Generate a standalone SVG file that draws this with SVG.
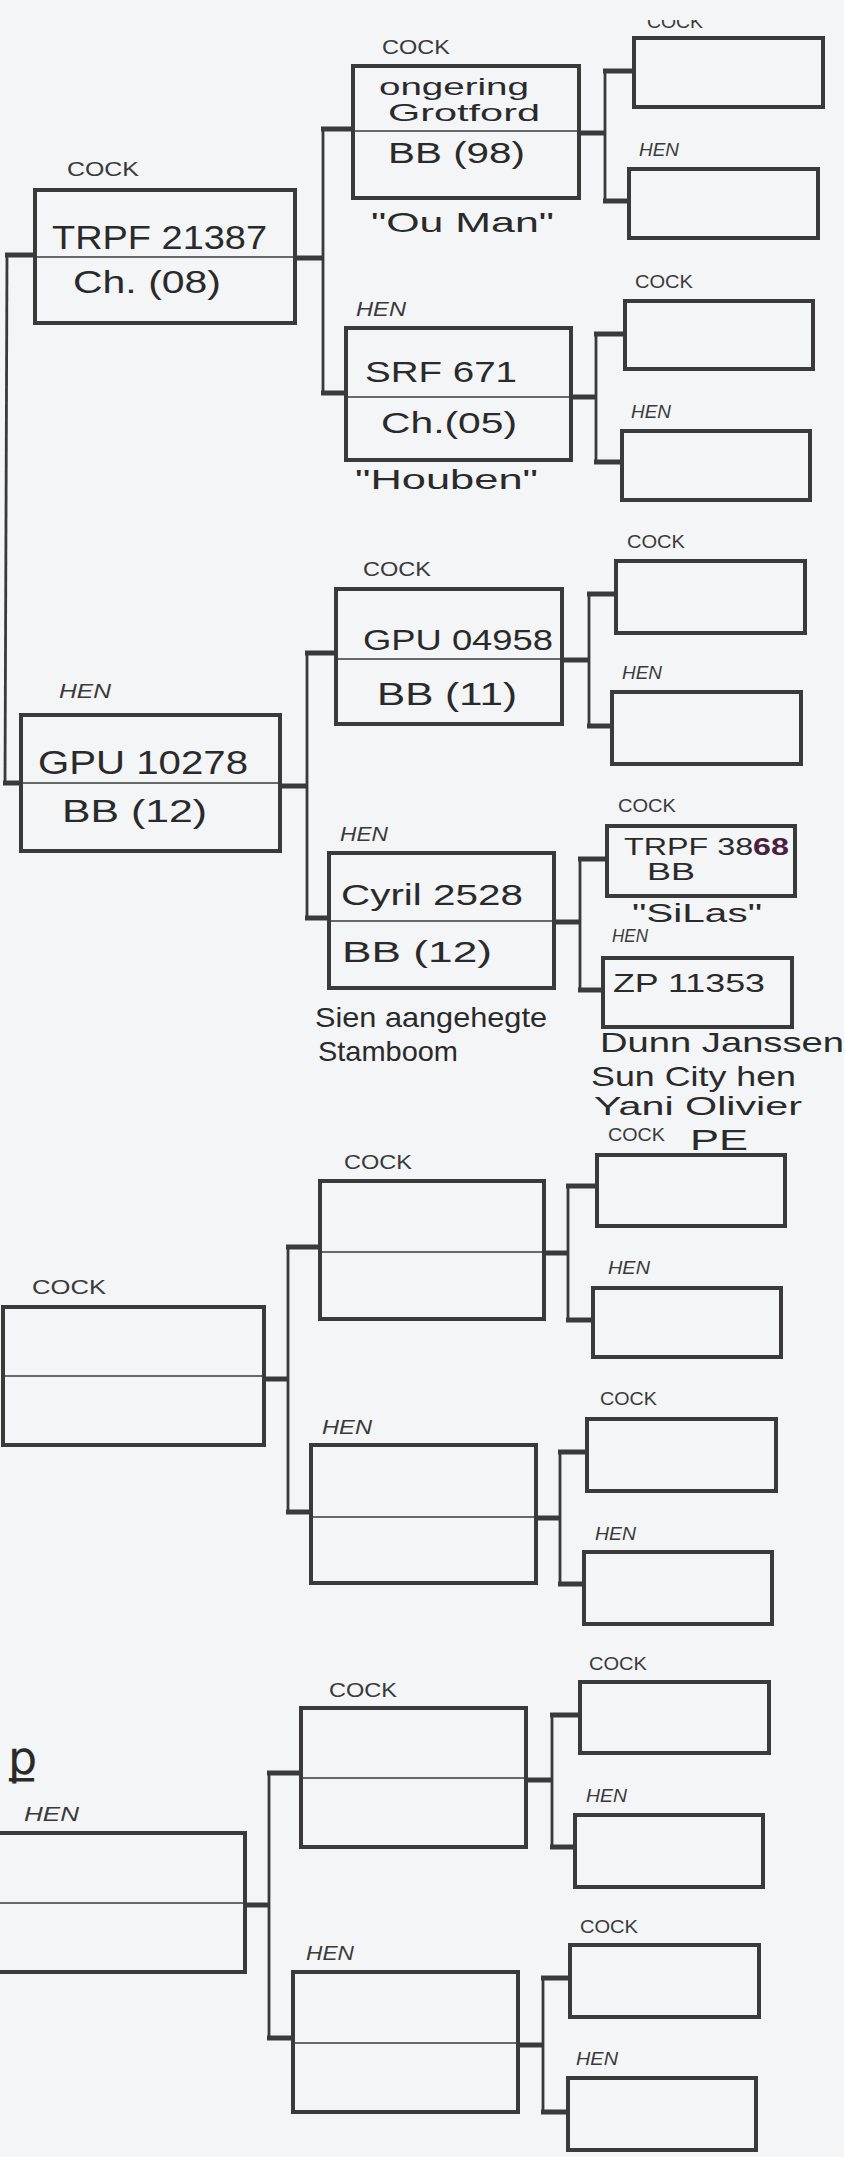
<svg xmlns="http://www.w3.org/2000/svg" width="844" height="2157" viewBox="0 0 844 2157">
<style>
.bg{fill:#f3f5f7}
.box{fill:none;stroke:#3a3a3a;stroke-width:4}
.mid{stroke:#3a3a3a;stroke-width:1.6}
.con{stroke:#3a3a3a;stroke-width:2.8;fill:none}
.stub{stroke:#3a3a3a;stroke-width:5}
.lbl{font-family:"Liberation Sans",Arial,sans-serif;font-size:21px;fill:#3a3a3a}
.lbs{font-family:"Liberation Sans",Arial,sans-serif;font-size:17.5px;fill:#3a3a3a}
.it{font-style:italic}
.hw{font-family:"Liberation Sans",Arial,sans-serif;fill:#2a2a2a}
</style>
<defs>
<clipPath id="cut"><rect x="600" y="20" width="200" height="20"/></clipPath>
</defs>
<rect class="bg" x="0" y="0" width="844" height="2157"/>

<g id="connectors">
<path class="con" d="M7 255 L5 783"/>
<line class="stub" x1="5" y1="255" x2="35" y2="255"/>
<line class="stub" x1="3" y1="783" x2="21" y2="783"/>
<line class="stub" x1="295" y1="258" x2="323" y2="258"/>
<line class="con" x1="323" y1="129" x2="323" y2="393"/>
<line class="stub" x1="321" y1="129" x2="353" y2="129"/>
<line class="stub" x1="321" y1="393" x2="346" y2="393"/>
<line class="stub" x1="579" y1="133" x2="605" y2="133"/>
<line class="con" x1="605" y1="71" x2="605" y2="201"/>
<line class="stub" x1="603" y1="71" x2="634" y2="71"/>
<line class="stub" x1="603" y1="201" x2="629" y2="201"/>
<line class="stub" x1="571" y1="397" x2="596" y2="397"/>
<line class="con" x1="596" y1="334" x2="596" y2="462"/>
<line class="stub" x1="594" y1="334" x2="625" y2="334"/>
<line class="stub" x1="594" y1="462" x2="622" y2="462"/>
<line class="stub" x1="280" y1="786" x2="307" y2="786"/>
<line class="con" x1="307" y1="653" x2="307" y2="918"/>
<line class="stub" x1="305" y1="653" x2="336" y2="653"/>
<line class="stub" x1="305" y1="918" x2="329" y2="918"/>
<line class="stub" x1="562" y1="660" x2="589" y2="660"/>
<line class="con" x1="589" y1="594" x2="589" y2="726"/>
<line class="stub" x1="587" y1="594" x2="616" y2="594"/>
<line class="stub" x1="587" y1="726" x2="612" y2="726"/>
<line class="stub" x1="554" y1="922" x2="580" y2="922"/>
<line class="con" x1="580" y1="859" x2="580" y2="990"/>
<line class="stub" x1="578" y1="859" x2="607" y2="859"/>
<line class="stub" x1="578" y1="990" x2="603" y2="990"/>
<line class="stub" x1="264" y1="1379" x2="288" y2="1379"/>
<line class="con" x1="288" y1="1247" x2="288" y2="1512"/>
<line class="stub" x1="286" y1="1247" x2="320" y2="1247"/>
<line class="stub" x1="286" y1="1512" x2="311" y2="1512"/>
<line class="stub" x1="544" y1="1253" x2="568" y2="1253"/>
<line class="con" x1="568" y1="1186" x2="568" y2="1320"/>
<line class="stub" x1="566" y1="1186" x2="597" y2="1186"/>
<line class="stub" x1="566" y1="1320" x2="593" y2="1320"/>
<line class="stub" x1="536" y1="1518" x2="560" y2="1518"/>
<line class="con" x1="560" y1="1452" x2="560" y2="1584"/>
<line class="stub" x1="558" y1="1452" x2="587" y2="1452"/>
<line class="stub" x1="558" y1="1584" x2="584" y2="1584"/>
<line class="stub" x1="245" y1="1905" x2="269" y2="1905"/>
<line class="con" x1="269" y1="1773" x2="269" y2="2038"/>
<line class="stub" x1="267" y1="1773" x2="301" y2="1773"/>
<line class="stub" x1="267" y1="2038" x2="293" y2="2038"/>
<line class="stub" x1="526" y1="1780" x2="552" y2="1780"/>
<line class="con" x1="552" y1="1715" x2="552" y2="1847"/>
<line class="stub" x1="550" y1="1715" x2="580" y2="1715"/>
<line class="stub" x1="550" y1="1847" x2="575" y2="1847"/>
<line class="stub" x1="518" y1="2045" x2="543" y2="2045"/>
<line class="con" x1="543" y1="1978" x2="543" y2="2112"/>
<line class="stub" x1="541" y1="1978" x2="570" y2="1978"/>
<line class="stub" x1="541" y1="2112" x2="568" y2="2112"/>
</g>

<g id="trpf21387">
<text class="lbl" x="67" y="176" textLength="72" lengthAdjust="spacingAndGlyphs">COCK</text>
<rect class="box" x="35" y="190" width="260" height="133"/>
<line class="mid" x1="35" y1="257" x2="295" y2="257"/>
<text class="hw" x="52" y="249" font-size="34" textLength="215" lengthAdjust="spacingAndGlyphs">TRPF 21387</text>
<text class="hw" x="73" y="293" font-size="32" textLength="148" lengthAdjust="spacingAndGlyphs">Ch. (08)</text>
</g>
<g id="ongering">
<text class="lbl" x="382" y="54" textLength="68" lengthAdjust="spacingAndGlyphs">COCK</text>
<rect class="box" x="353" y="66" width="226" height="132"/>
<line class="mid" x1="353" y1="131" x2="579" y2="131"/>
<text class="hw" x="379" y="95" font-size="24" textLength="150" lengthAdjust="spacingAndGlyphs">ongering</text>
<text class="hw" x="388" y="121" font-size="24" textLength="152" lengthAdjust="spacingAndGlyphs">Grotford</text>
<text class="hw" x="388" y="163" font-size="30" textLength="137" lengthAdjust="spacingAndGlyphs">BB (98)</text>
<text class="hw" x="371" y="232" font-size="28" textLength="183" lengthAdjust="spacingAndGlyphs">"Ou Man"</text>
</g>
<g id="srf671">
<text class="lbl it" x="356" y="316" textLength="50" lengthAdjust="spacingAndGlyphs">HEN</text>
<rect class="box" x="346" y="328" width="225" height="132"/>
<line class="mid" x1="346" y1="397" x2="571" y2="397"/>
<text class="hw" x="365" y="382" font-size="30" textLength="152" lengthAdjust="spacingAndGlyphs">SRF 671</text>
<text class="hw" x="381" y="433" font-size="30" textLength="136" lengthAdjust="spacingAndGlyphs">Ch.(05)</text>
<text class="hw" x="355" y="489" font-size="28" textLength="183" lengthAdjust="spacingAndGlyphs">"Houben"</text>
</g>
<g id="r1">
<text class="lbs" x="647" y="28" textLength="56" lengthAdjust="spacingAndGlyphs" clip-path="url(#cut)">COCK</text>
<rect class="box" x="634" y="38" width="189" height="69"/>
</g>
<g id="r2">
<text class="lbs it" x="639" y="156" textLength="40" lengthAdjust="spacingAndGlyphs">HEN</text>
<rect class="box" x="629" y="169" width="189" height="69"/>
</g>
<g id="r3">
<text class="lbs" x="635" y="288" textLength="58" lengthAdjust="spacingAndGlyphs">COCK</text>
<rect class="box" x="625" y="301" width="188" height="68"/>
</g>
<g id="r4">
<text class="lbs it" x="631" y="418" textLength="40" lengthAdjust="spacingAndGlyphs">HEN</text>
<rect class="box" x="622" y="431" width="188" height="69"/>
</g>

<g id="gpu10278">
<text class="lbl it" x="59" y="698" textLength="52" lengthAdjust="spacingAndGlyphs">HEN</text>
<rect class="box" x="21" y="715" width="259" height="136"/>
<line class="mid" x1="21" y1="783" x2="280" y2="783"/>
<text class="hw" x="38" y="774" font-size="34" textLength="210" lengthAdjust="spacingAndGlyphs">GPU 10278</text>
<text class="hw" x="62" y="822" font-size="32" textLength="145" lengthAdjust="spacingAndGlyphs">BB (12)</text>
</g>
<g id="gpu04958">
<text class="lbl" x="363" y="576" textLength="68" lengthAdjust="spacingAndGlyphs">COCK</text>
<rect class="box" x="336" y="589" width="226" height="135"/>
<line class="mid" x1="336" y1="659" x2="562" y2="659"/>
<text class="hw" x="363" y="650" font-size="30" textLength="190" lengthAdjust="spacingAndGlyphs">GPU 04958</text>
<text class="hw" x="377" y="705" font-size="32" textLength="140" lengthAdjust="spacingAndGlyphs">BB (11)</text>
</g>
<g id="cyril2528">
<text class="lbl it" x="340" y="841" textLength="48" lengthAdjust="spacingAndGlyphs">HEN</text>
<rect class="box" x="329" y="853" width="225" height="135" fill="#f6f2ad"/>
<line class="mid" x1="329" y1="921" x2="554" y2="921"/>
<text class="hw" x="341" y="905" font-size="30" textLength="182" lengthAdjust="spacingAndGlyphs">Cyril 2528</text>
<text class="hw" x="342" y="962" font-size="30" textLength="150" lengthAdjust="spacingAndGlyphs">BB (12)</text>
<text class="hw" x="315" y="1027" font-size="28" textLength="232" lengthAdjust="spacingAndGlyphs">Sien aangehegte</text>
<text class="hw" x="318" y="1061" font-size="28" textLength="140" lengthAdjust="spacingAndGlyphs">Stamboom</text>
</g>
<g id="r5">
<text class="lbs" x="627" y="548" textLength="58" lengthAdjust="spacingAndGlyphs">COCK</text>
<rect class="box" x="616" y="561" width="189" height="72"/>
</g>
<g id="r6">
<text class="lbs it" x="622" y="679" textLength="40" lengthAdjust="spacingAndGlyphs">HEN</text>
<rect class="box" x="612" y="692" width="189" height="72"/>
</g>
<g id="trpf3868">
<text class="lbs" x="618" y="812" textLength="58" lengthAdjust="spacingAndGlyphs">COCK</text>
<rect class="box" x="607" y="826" width="188" height="70" fill="#e487bb"/>
<text class="hw" x="624" y="855" font-size="24" fill="#5a3a4a" textLength="165" lengthAdjust="spacingAndGlyphs">TRPF 38<tspan font-weight="bold" fill="#4a2040">68</tspan></text>
<text class="hw" x="647" y="880" font-size="24" fill="#5a3a4a" textLength="48" lengthAdjust="spacingAndGlyphs">BB</text>
<text class="hw" x="632" y="922" font-size="26" textLength="130" lengthAdjust="spacingAndGlyphs">"SiLas"</text>
</g>
<g id="zp11353">
<text class="lbs it" x="612" y="942" textLength="36" lengthAdjust="spacingAndGlyphs">HEN</text>
<rect class="box" x="603" y="958" width="189" height="69" fill="#f3c8b2"/>
<text class="hw" x="613" y="992" font-size="26" textLength="152" lengthAdjust="spacingAndGlyphs">ZP 11353</text>
<text class="hw" x="600" y="1052" font-size="28" textLength="244" lengthAdjust="spacingAndGlyphs">Dunn Janssen</text>
<text class="hw" x="591" y="1086" font-size="28" textLength="205" lengthAdjust="spacingAndGlyphs">Sun City hen</text>
<text class="hw" x="594" y="1115" font-size="26" textLength="208" lengthAdjust="spacingAndGlyphs">Yani Olivier</text>
<text class="hw" x="690" y="1150" font-size="30" textLength="58" lengthAdjust="spacingAndGlyphs">PE</text>
</g>

<g id="g3left">
<text class="lbl" x="32" y="1294" textLength="74" lengthAdjust="spacingAndGlyphs">COCK</text>
<rect class="box" x="3" y="1307" width="261" height="138"/>
<line class="mid" x1="3" y1="1376" x2="264" y2="1376"/>
</g>
<g id="g3top">
<text class="lbl" x="344" y="1169" textLength="68" lengthAdjust="spacingAndGlyphs">COCK</text>
<rect class="box" x="320" y="1181" width="224" height="138"/>
<line class="mid" x1="320" y1="1252" x2="544" y2="1252"/>
</g>
<g id="g3bot">
<text class="lbl it" x="322" y="1434" textLength="50" lengthAdjust="spacingAndGlyphs">HEN</text>
<rect class="box" x="311" y="1445" width="225" height="138"/>
<line class="mid" x1="311" y1="1517" x2="536" y2="1517"/>
</g>
<g id="r9">
<text class="lbs" x="608" y="1141" textLength="57" lengthAdjust="spacingAndGlyphs">COCK</text>
<rect class="box" x="597" y="1155" width="188" height="71"/>
</g>
<g id="r10">
<text class="lbs it" x="608" y="1274" textLength="42" lengthAdjust="spacingAndGlyphs">HEN</text>
<rect class="box" x="593" y="1288" width="188" height="69"/>
</g>
<g id="r11">
<text class="lbs" x="600" y="1405" textLength="57" lengthAdjust="spacingAndGlyphs">COCK</text>
<rect class="box" x="587" y="1419" width="189" height="72"/>
</g>
<g id="r12">
<text class="lbs it" x="595" y="1540" textLength="41" lengthAdjust="spacingAndGlyphs">HEN</text>
<rect class="box" x="584" y="1552" width="188" height="72"/>
</g>

<g id="g4left">
<text class="hw" x="8" y="1774" font-size="46" fill="#555">ք</text>
<text class="lbl it" x="24" y="1821" fill="#777" textLength="55" lengthAdjust="spacingAndGlyphs">HEN</text>
<rect class="box" x="-4" y="1833" width="249" height="139"/>
<line class="mid" x1="0" y1="1903" x2="245" y2="1903"/>
</g>
<g id="g4top">
<text class="lbl" x="329" y="1697" textLength="68" lengthAdjust="spacingAndGlyphs">COCK</text>
<rect class="box" x="301" y="1708" width="225" height="139"/>
<line class="mid" x1="301" y1="1778" x2="526" y2="1778"/>
</g>
<g id="g4bot">
<text class="lbl it" x="306" y="1960" textLength="48" lengthAdjust="spacingAndGlyphs">HEN</text>
<rect class="box" x="293" y="1972" width="225" height="140"/>
<line class="mid" x1="293" y1="2043" x2="518" y2="2043"/>
</g>
<g id="r13">
<text class="lbs" x="589" y="1670" textLength="58" lengthAdjust="spacingAndGlyphs">COCK</text>
<rect class="box" x="580" y="1682" width="189" height="71"/>
</g>
<g id="r14">
<text class="lbs it" x="586" y="1802" textLength="41" lengthAdjust="spacingAndGlyphs">HEN</text>
<rect class="box" x="575" y="1815" width="188" height="72"/>
</g>
<g id="r15">
<text class="lbs" x="580" y="1933" textLength="58" lengthAdjust="spacingAndGlyphs">COCK</text>
<rect class="box" x="570" y="1945" width="189" height="72"/>
</g>
<g id="r16">
<text class="lbs it" x="576" y="2065" textLength="42" lengthAdjust="spacingAndGlyphs">HEN</text>
<rect class="box" x="568" y="2078" width="188" height="72"/>
</g>
</svg>
